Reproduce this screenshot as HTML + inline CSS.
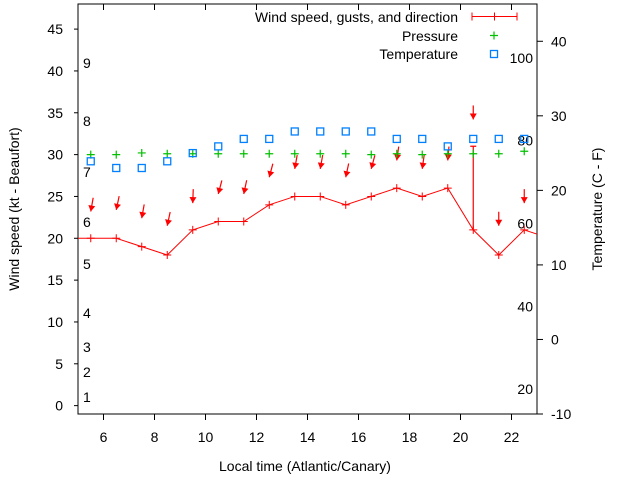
<!DOCTYPE html>
<html><head><meta charset="utf-8"><style>
body{margin:0;background:#fff}
svg{display:block;font-family:"Liberation Sans",sans-serif}
</style></head><body>
<svg id="chart" width="640" height="480" viewBox="0 0 640 480" xmlns="http://www.w3.org/2000/svg">
<g id="plot"></g>
</svg>
<script>
const hours=[5.5,6.5,7.5,8.5,9.5,10.5,11.5,12.5,13.5,14.5,15.5,16.5,17.5,18.5,19.5,20.5,21.5,22.5];
const windSpeed=[20,20,19,18,21,22,22,24,25,25,24,25,26,25,26,21,18,21];
const gustHigh=[null,null,null,null,null,null,null,null,null,null,null,null,null,null,null,31,null,null];
const arrowTip=[23.2,23.4,22.4,21.5,24.2,25.3,25.3,27.3,28.3,28.3,27.3,28.3,29.3,28.3,29.3,34.2,21.5,24.2];
const windDir=[10,12,10,12,2,15,12,15,10,10,12,15,8,8,5,0,0,0];
const pressure=[30.0,30.0,30.2,30.1,30.1,30.1,30.1,30.1,30.1,30.1,30.1,30.0,30.1,30.0,30.1,30.1,30.1,30.4];
const temperature=[23.9,23.0,23.0,23.9,25.0,25.9,26.9,26.9,27.9,27.9,27.9,27.9,26.9,26.9,25.9,26.9,26.9,26.9];
const xTicks=[6,8,10,12,14,16,18,20,22];
const yTicks=[0,5,10,15,20,25,30,35,40,45];
const y2Ticks=[-10,0,10,20,30,40];
const beaufort=[[1,397],[2,372],[3,347],[4,313],[5,264],[6,222],[7,172],[8,121],[9,63]];
const fahr=[20,40,60,80,100];

const L=78,R=537,T=4,B=414;
const X=v=>L+(v-5)/(23-5)*(R-L);
const Y=v=>B-(v+1)/(48+1)*(B-T);
const Y2=v=>B-(v+10)/(45+10)*(B-T);
const NS='http://www.w3.org/2000/svg';
const g=document.getElementById('plot');
function mk(t,a,p){const e=document.createElementNS(NS,t);for(const k in a)e.setAttribute(k,a[k]);(p||g).appendChild(e);return e;}

// border
const border=mk('rect',{x:L,y:T,width:R-L,height:B-T,fill:'none',stroke:'#000','stroke-width':1});



xTicks.forEach(v=>{
  const x=X(v);
  mk('line',{x1:x,y1:B,x2:x,y2:B+6,stroke:'#000'});
  mk('line',{x1:x,y1:T,x2:x,y2:T+6,stroke:'#000'});
  const t=mk('text',{x:x,y:442,'text-anchor':'middle','font-size':14,fill:'#000'});t.textContent=v;
  
  
});
yTicks.forEach(v=>{
  const y=Y(v);
  mk('line',{x1:L-4,y1:y,x2:L,y2:y,stroke:'#000'});
  const t=mk('text',{x:63,y:y+5,'text-anchor':'end','font-size':14,fill:'#000'});t.textContent=v;
  
  
});
y2Ticks.forEach(v=>{
  const y=Y2(v);
  mk('line',{x1:R,y1:y,x2:R+6,y2:y,stroke:'#000'});
  const t=mk('text',{x:551,y:y+5,'text-anchor':'start','font-size':14,fill:'#000'});t.textContent=v;
  
  
});
beaufort.forEach(b=>{
  const t=mk('text',{x:83,y:b[1]+5,'font-size':14,fill:'#000'});t.textContent=b[0];
  
  
});
fahr.forEach(f=>{
  const c=(f-32)*5/9;
  const t=mk('text',{x:533,y:Y2(c)+5,'text-anchor':'end','font-size':14,fill:'#000'});t.textContent=f;
  
  
});

// clip
const defs=mk('defs',{});const cp=mk('clipPath',{id:'clip'},defs);mk('rect',{x:L,y:T,width:R-L,height:B-T},cp);
const cg=mk('g',{'clip-path':'url(#clip)'});

// wind line
let pts=[[X(4.5),Y(20)]].concat(hours.map((h,i)=>[X(h),Y(windSpeed[i])])).concat([[X(23.5),Y(20)]]);
const wl=mk('polyline',{points:pts.map(p=>p.join(',')).join(' '),fill:'none',stroke:'#f00','stroke-width':1},cg);


hours.forEach((h,i)=>{
  const x=X(h),y=Y(windSpeed[i]);
  const p=mk('path',{d:`M${x-4},${y}h8M${x},${y-4}v8`,stroke:'#f00','stroke-width':1},cg);
  
  
  if(gustHigh[i]!=null){
    const e=mk('path',{d:`M${x},${y}V${Y(gustHigh[i])}M${x-3},${Y(gustHigh[i])}h6`,stroke:'#f00','stroke-width':1.2},cg);
    
    
  }
  // direction arrow
  const ty=Y(arrowTip[i]),a=windDir[i]*Math.PI/180,len=14;
  const sx=x+Math.sin(a)*len, sy=ty-Math.cos(a)*len;
  const ux=(x-sx)/len,uy=(ty-sy)/len;
  const bx=x-ux*6,by=ty-uy*6;
  const ar=mk('g',{},cg);
  
  
  mk('line',{x1:sx,y1:sy,x2:x,y2:ty,stroke:'#f00','stroke-width':1.2},ar);
  mk('polygon',{points:`${x},${ty} ${bx-uy*3.5},${by+ux*3.5} ${bx+uy*3.5},${by-ux*3.5}`,fill:'#f00'},ar);
});
// pressure
hours.forEach((h,i)=>{
  const x=X(h),y=Y(pressure[i]);
  const p=mk('path',{d:`M${x-4},${y}h8M${x},${y-4}v8`,stroke:'#00c000','stroke-width':1.2},cg);
  
  
});
// temperature
hours.forEach((h,i)=>{
  const x=X(h),y=Y2(temperature[i]);
  const r=mk('rect',{x:x-3.5,y:y-3.5,width:7,height:7,fill:'none',stroke:'#0080ff','stroke-width':1.3},cg);
  
  
});
</script>
<svg style="position:absolute;left:0;top:0" width="640" height="480">
<g font-family="Liberation Sans, sans-serif" font-size="14" fill="#000">
<g><text x="458" y="22" text-anchor="end">Wind speed, gusts, and direction</text>
<path d="M472,16.5h45M472,12.5v8M517,12.5v8M494.5,12.5v8" stroke="#f00" stroke-width="1"/></g>
<g><text x="458" y="41" text-anchor="end">Pressure</text>
<path d="M490,35.5h8M494,31.5v8" stroke="#00c000" stroke-width="1.2"/></g>
<g><text x="458" y="59" text-anchor="end">Temperature</text>
<rect x="490.5" y="50.5" width="7" height="7" fill="none" stroke="#0080ff" stroke-width="1.3"/></g>
<text x="305" y="471" text-anchor="middle">Local time (Atlantic/Canary)</text>
<text transform="translate(19,209) rotate(-90)" text-anchor="middle">Wind speed (kt - Beaufort)</text>
<text transform="translate(602,209) rotate(-90)" text-anchor="middle">Temperature (C - F)</text>
</g></svg>
</body></html>
